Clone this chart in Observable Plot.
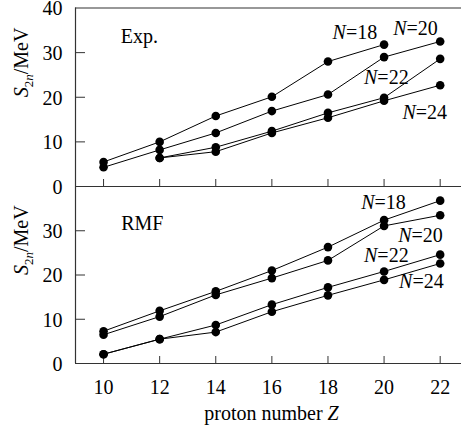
<!DOCTYPE html>
<html><head><meta charset="utf-8">
<script src="https://cdn.jsdelivr.net/npm/d3@7"></script>
<script src="https://cdn.jsdelivr.net/npm/@observablehq/plot@0.6"></script>
<style>
body{margin:0;background:#fff}
#chart{position:relative;width:461px;height:429px;background:#fff}
#chart svg{position:absolute;left:0;top:0}
</style></head><body><div id="chart"></div>
<script>
// ---- data ----
const Z = [10, 12, 14, 16, 18, 20, 22];
const xTicks = [10, 12, 14, 16, 18, 20, 22];
const seriesNames = ["N=18", "N=20", "N=22", "N=24"];
const expN18 = [5.5, 10.0, 15.8, 20.1, 28.0, 31.8, null];
const expN20 = [4.3, 8.2, 12.0, 16.9, 20.6, 29.0, 32.5];
const expN22 = [null, 6.4, 8.8, 12.4, 16.5, 19.9, 28.6];
const expN24 = [null, 6.4, 7.8, 12.0, 15.4, 19.2, 22.7];
const rmfN18 = [7.3, 11.9, 16.3, 21.0, 26.3, 32.4, 36.8];
const rmfN20 = [6.5, 10.6, 15.5, 19.3, 23.3, 31.1, 33.5];
const rmfN22 = [2.1, 5.5, 8.7, 13.3, 17.2, 20.8, 24.6];
const rmfN24 = [2.1, 5.5, 7.1, 11.7, 15.4, 18.9, 22.6];
const expTickLabels = [0, 10, 20, 30, 40];
const rmfTickLabels = [0, 10, 20, 30];
const yInnerTicks = [10, 20, 30];

// ---- helpers ----
const W = 461;
const xDomain = [9, 22.76];
const yDomain = [0, 40];
const axisColor = "#333";
const font = "Liberation Serif";

function rows(list) {
  return list.flatMap((vals, k) => vals.map((v, i) => ({Z: Z[i], S: v, N: seriesNames[k]})).filter(d => d.S != null));
}

function panel({data, labels, name, namePos, tickLabels, height, marginTop, marginBottom, xAxis}) {
  const plotH = height - marginTop - marginBottom;
  const plotW = W - 75;
  const txt = {fill: "black", fontFamily: font, fontSize: 20};
  const marks = [
    Plot.ruleX([xDomain[0]], {stroke: axisColor, strokeWidth: 1.2}),
    Plot.ruleY([yDomain[1]], {stroke: axisColor, strokeWidth: 1.2}),
    Plot.ruleY([yDomain[0]], {stroke: axisColor, strokeWidth: 1.2}),
    Plot.tickX(xTicks, {x: d => d, insetTop: plotH - 7, stroke: axisColor}),
    Plot.tickY(yInnerTicks, {y: d => d, insetRight: plotW - 10, stroke: axisColor}),
    Plot.axisY(tickLabels, {tickSize: 0, tickPadding: 13, dy: 1, label: null, ...txt}),
    Plot.line(data, {x: "Z", y: "S", z: "N", stroke: "black", strokeWidth: 1}),
    Plot.dot(data, {x: "Z", y: "S", r: 4.3, fill: "black"}),
    Plot.text(labels, {x: "x", y: "y", text: "t", textAnchor: "middle", ...txt}),
    Plot.text([name], {x: namePos[0], y: namePos[1], textAnchor: "start", lineAnchor: "bottom", ...txt}),
    Plot.text(["S2n/MeV"], {frameAnchor: "left", rotate: -90, dx: -48, lineAnchor: "bottom", ...txt})
  ];
  if (xAxis) {
    marks.push(Plot.axisX(xTicks, {tickSize: 0, tickPadding: 16, label: null, ...txt}));
    marks.push(Plot.text(["proton number Z"], {frameAnchor: "bottom", dy: 56, dx: 3, lineAnchor: "bottom", ...txt}));
  }
  return Plot.plot({
    width: W, height, marginLeft: 75, marginRight: 0, marginTop, marginBottom,
    x: {domain: xDomain, axis: null},
    y: {domain: yDomain, axis: null},
    style: {fontFamily: font, fontSize: "20px", background: "transparent", color: "black", overflow: "visible"},
    marks
  });
}

function richify(svg) {
  d3.select(svg).selectAll("text").each(function () {
    const t = this.textContent;
    const s = d3.select(this);
    let m;
    if ((m = t.match(/^N=(\d+)$/))) {
      this.textContent = "";
      s.append("tspan").attr("font-style", "italic").text("N");
      s.append("tspan").text("=" + m[1]);
    } else if (t === "S2n/MeV") {
      this.textContent = "";
      s.append("tspan").attr("font-style", "italic").text("S");
      s.append("tspan").attr("font-size", "13px").attr("dy", "5").text("2");
      s.append("tspan").attr("font-size", "13px").attr("font-style", "italic").text("n");
      s.append("tspan").attr("dy", "-5").text("/MeV");
    } else if (t === "proton number Z") {
      this.textContent = "";
      s.append("tspan").text("proton number ");
      s.append("tspan").attr("font-style", "italic").text("Z");
    }
  });
  return svg;
}

const topPanel = panel({
  data: rows([expN18, expN20, expN22, expN24]),
  labels: [
    {x: 18.96, y: 34.6, t: "N=18"},
    {x: 21.12, y: 35.3, t: "N=20"},
    {x: 20.08, y: 24.35, t: "N=22"},
    {x: 21.45, y: 16.57, t: "N=24"}
  ],
  name: "Exp.", namePos: [10.61, 32.1],
  tickLabels: expTickLabels,
  height: 190, marginTop: 7.5, marginBottom: 4, xAxis: false
});
const bottomPanel = panel({
  data: rows([rmfN18, rmfN20, rmfN22, rmfN24]),
  labels: [
    {x: 19.98, y: 36.4, t: "N=18"},
    {x: 21.30, y: 28.96, t: "N=20"},
    {x: 20.08, y: 24.45, t: "N=22"},
    {x: 21.33, y: 18.6, t: "N=24"}
  ],
  name: "RMF", namePos: [10.63, 30.2],
  tickLabels: rmfTickLabels,
  height: 429, marginTop: 186, marginBottom: 66, xAxis: true
});
const chart = document.getElementById("chart");
chart.appendChild(richify(topPanel));
chart.appendChild(richify(bottomPanel));
</script></body></html>
